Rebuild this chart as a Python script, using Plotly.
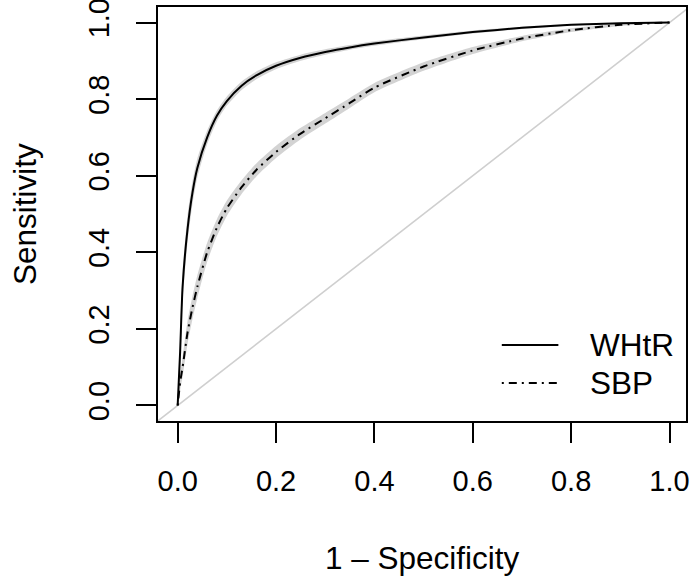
import plotly.graph_objects as go

# 1 - specificity grid
fpr = [0, 0.005, 0.01, 0.02, 0.03, 0.04, 0.06, 0.08, 0.1, 0.13, 0.16, 0.2,
       0.25, 0.3, 0.35, 0.4, 0.5, 0.6, 0.7, 0.8, 0.9, 1.0]

# WHtR sensitivity and CI band
whtr_se = [0, 0.14, 0.31, 0.46, 0.555, 0.62, 0.70, 0.757, 0.795, 0.835, 0.862, 0.887,
           0.908, 0.923, 0.935, 0.945, 0.961, 0.975, 0.986, 0.994, 0.998, 1.0]
whtr_lo = [0, 0.10, 0.27, 0.425, 0.525, 0.595, 0.682, 0.743, 0.783, 0.824, 0.852, 0.878,
           0.900, 0.916, 0.929, 0.939, 0.956, 0.971, 0.983, 0.992, 0.997, 1.0]
whtr_hi = [0, 0.18, 0.35, 0.495, 0.585, 0.645, 0.718, 0.771, 0.807, 0.846, 0.872, 0.896,
           0.916, 0.930, 0.941, 0.951, 0.966, 0.979, 0.989, 0.996, 0.999, 1.0]

# SBP sensitivity and CI band
sbp_se = [0, 0.06, 0.10, 0.19, 0.255, 0.31, 0.40, 0.465, 0.515, 0.57, 0.615, 0.662,
          0.71, 0.75, 0.79, 0.83, 0.885, 0.927, 0.958, 0.980, 0.994, 1.0]
sbp_lo = [0, 0.04, 0.075, 0.16, 0.225, 0.28, 0.375, 0.443, 0.495, 0.552, 0.598, 0.646,
          0.695, 0.736, 0.777, 0.818, 0.874, 0.918, 0.951, 0.975, 0.991, 1.0]
sbp_hi = [0, 0.08, 0.125, 0.22, 0.285, 0.34, 0.425, 0.487, 0.535, 0.588, 0.632, 0.678,
          0.725, 0.764, 0.803, 0.842, 0.896, 0.936, 0.965, 0.985, 0.997, 1.0]

tick_vals = [0, 0.2, 0.4, 0.6, 0.8, 1.0]
tick_text = ["0.0", "0.2", "0.4", "0.6", "0.8", "1.0"]
legend_names = ["WHtR", "SBP"]

FONT = "Liberation Sans, Arial, Helvetica, sans-serif"
FS = 31.5
TICK_FS = 29
BAND = "#D3D3D3"
SBP_DASH = "2px,5px,8px,5px"

fig = go.Figure()

# chance diagonal
fig.add_trace(go.Scatter(x=[-0.1, 1.1], y=[-0.1, 1.1], mode="lines",
                         line=dict(color="#CFCFCF", width=1.6),
                         showlegend=False, hoverinfo="skip"))

# CI bands
for lo, hi in [(whtr_lo, whtr_hi), (sbp_lo, sbp_hi)]:
    fig.add_trace(go.Scatter(x=fpr + fpr[::-1], y=hi + lo[::-1], mode="lines",
                             fill="toself", fillcolor=BAND,
                             line=dict(width=0, color=BAND, shape="spline", smoothing=0.6),
                             showlegend=False, hoverinfo="skip"))

fig.add_trace(go.Scatter(x=fpr, y=whtr_se, mode="lines", name=legend_names[0],
                         line=dict(color="black", width=2, shape="spline", smoothing=0.6),
                         showlegend=False))
fig.add_trace(go.Scatter(x=fpr, y=sbp_se, mode="lines", name=legend_names[1],
                         line=dict(color="black", width=2, dash=SBP_DASH,
                                   shape="spline", smoothing=0.6),
                         showlegend=False))

# legend (drawn R-style, no box)
leg_y = [0.158, 0.059]
leg_dash = ["solid", SBP_DASH]
for name, yy, dsh in zip(legend_names, leg_y, leg_dash):
    fig.add_shape(type="line", xref="x", yref="y", x0=0.659, x1=0.774, y0=yy, y1=yy,
                  line=dict(color="black", width=2, dash=dsh))
    fig.add_annotation(x=0.835, y=yy, xref="x", yref="y", text=name, showarrow=False,
                       xanchor="left", yanchor="middle",
                       font=dict(family=FONT, size=FS, color="black"))

# axis titles
fig.add_annotation(x=0.5, y=0, xref="paper", yref="paper", yshift=-137,
                   text="1 \u2013 Specificity", showarrow=False,
                   xanchor="center", yanchor="middle",
                   font=dict(family=FONT, size=FS, color="black"))
fig.add_annotation(x=0, y=0.5, xref="paper", yref="paper", xshift=-133,
                   text="Sensitivity", showarrow=False, textangle=-90,
                   xanchor="center", yanchor="middle",
                   font=dict(family=FONT, size=FS, color="black"))

axis_common = dict(
    tickvals=tick_vals, ticktext=tick_text, ticks="outside", ticklen=20,
    tickwidth=1.5, tickcolor="black", showgrid=False, zeroline=False,
    showline=True, linecolor="black", linewidth=2, mirror=True,
    tickfont=dict(family=FONT, size=TICK_FS, color="black"),
    automargin=False, ticklabeloverflow="allow",
)

fig.update_layout(
    width=693, height=579,
    margin=dict(l=158, r=7, t=7, b=158),
    paper_bgcolor="white", plot_bgcolor="white",
    xaxis=dict(range=[-0.04, 1.0335], ticklabelstandoff=13, **axis_common),
    yaxis=dict(range=[-0.0405, 1.0405], tickangle=-90, ticklabelstandoff=15, **axis_common),
    showlegend=False,
)

# remove the browser's default 8px body margin so the figure fills the window
fig.write_html("out.html", config={"displayModeBar": False},
               post_script="document.body.style.margin='0px';")
